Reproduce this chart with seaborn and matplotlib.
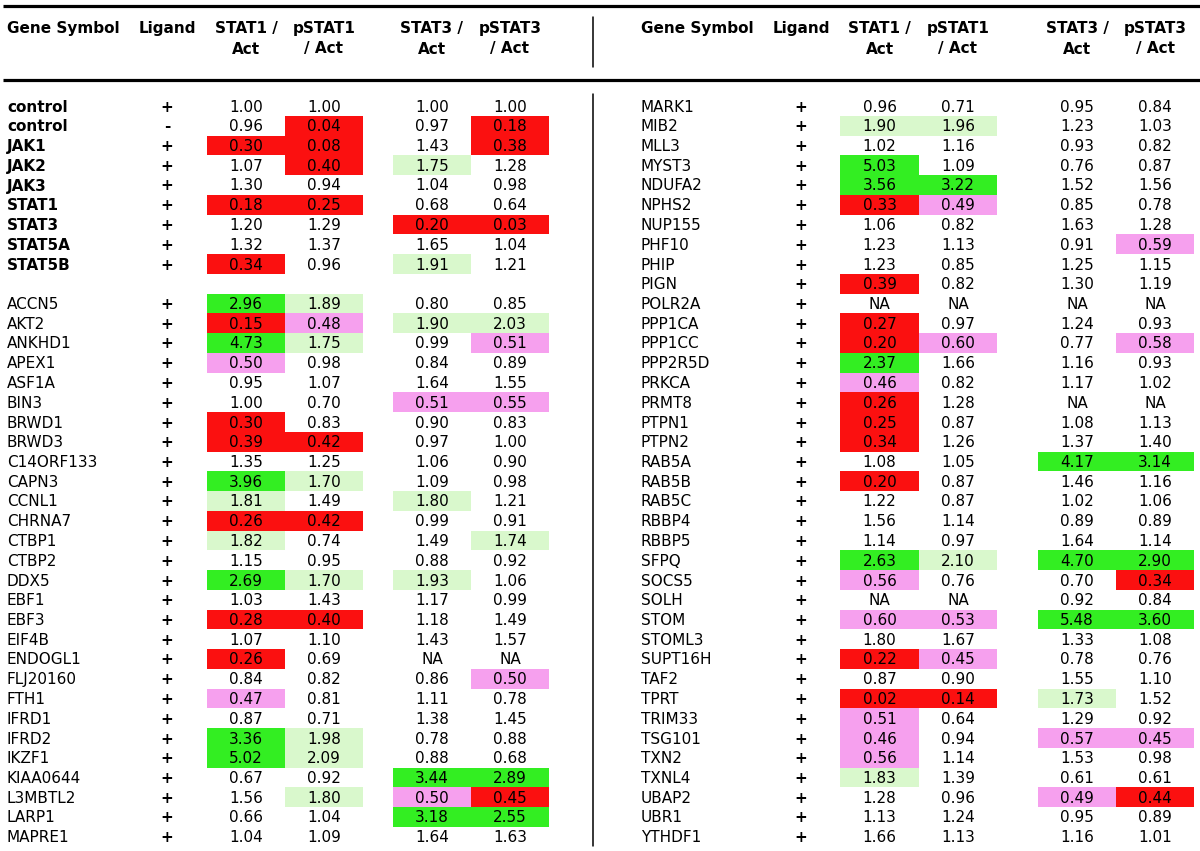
import numpy as np
import pandas as pd
import seaborn as sns
import matplotlib.pyplot as plt
from matplotlib.colors import ListedColormap

NA = np.nan

# ---- left half of the table ----
left_genes = ["control", "control", "JAK1", "JAK2", "JAK3", "STAT1", "STAT3", "STAT5A", "STAT5B", "",
              "ACCN5", "AKT2", "ANKHD1", "APEX1", "ASF1A", "BIN3", "BRWD1", "BRWD3", "C14ORF133", "CAPN3",
              "CCNL1", "CHRNA7", "CTBP1", "CTBP2", "DDX5", "EBF1", "EBF3", "EIF4B", "ENDOGL1", "FLJ20160",
              "FTH1", "IFRD1", "IFRD2", "IKZF1", "KIAA0644", "L3MBTL2", "LARP1", "MAPRE1"]
left_ligand = ["+", "-", "+", "+", "+", "+", "+", "+", "+", ""] + ["+"] * 28
left_stat1 = [1.00, 0.96, 0.30, 1.07, 1.30, 0.18, 1.20, 1.32, 0.34, NA,
              2.96, 0.15, 4.73, 0.50, 0.95, 1.00, 0.30, 0.39, 1.35, 3.96,
              1.81, 0.26, 1.82, 1.15, 2.69, 1.03, 0.28, 1.07, 0.26, 0.84,
              0.47, 0.87, 3.36, 5.02, 0.67, 1.56, 0.66, 1.04]
left_pstat1 = [1.00, 0.04, 0.08, 0.40, 0.94, 0.25, 1.29, 1.37, 0.96, NA,
               1.89, 0.48, 1.75, 0.98, 1.07, 0.70, 0.83, 0.42, 1.25, 1.70,
               1.49, 0.42, 0.74, 0.95, 1.70, 1.43, 0.40, 1.10, 0.69, 0.82,
               0.81, 0.71, 1.98, 2.09, 0.92, 1.80, 1.04, 1.09]
left_stat3 = [1.00, 0.97, 1.43, 1.75, 1.04, 0.68, 0.20, 1.65, 1.91, NA,
              0.80, 1.90, 0.99, 0.84, 1.64, 0.51, 0.90, 0.97, 1.06, 1.09,
              1.80, 0.99, 1.49, 0.88, 1.93, 1.17, 1.18, 1.43, NA, 0.86,
              1.11, 1.38, 0.78, 0.88, 3.44, 0.50, 3.18, 1.64]
left_pstat3 = [1.00, 0.18, 0.38, 1.28, 0.98, 0.64, 0.03, 1.04, 1.21, NA,
               0.85, 2.03, 0.51, 0.89, 1.55, 0.55, 0.83, 1.00, 0.90, 0.98,
               1.21, 0.91, 1.74, 0.92, 1.06, 0.99, 1.49, 1.57, NA, 0.50,
               0.78, 1.45, 0.88, 0.68, 2.89, 0.45, 2.55, 1.63]
# cell shading per row: r=red, p=pink, l=light green, g=green, .=none
left_flags = ["....", ".r.r", "rr.r", ".rl.", "....", "rr..", "..rr", "....", "r.l.", "....",
              "gl..", "rpll", "gl.p", "p...", "....", "..pp", "r...", "rr..", "....", "gl..",
              "l.l.", "rr..", "l..l", "....", "gll.", "....", "rr..", "....", "r...", "...p",
              "p...", "....", "gl..", "gl..", "..gg", ".lpr", "..gg", "...."]

# ---- right half of the table ----
right_genes = ["MARK1", "MIB2", "MLL3", "MYST3", "NDUFA2", "NPHS2", "NUP155", "PHF10", "PHIP", "PIGN",
               "POLR2A", "PPP1CA", "PPP1CC", "PPP2R5D", "PRKCA", "PRMT8", "PTPN1", "PTPN2", "RAB5A", "RAB5B",
               "RAB5C", "RBBP4", "RBBP5", "SFPQ", "SOCS5", "SOLH", "STOM", "STOML3", "SUPT16H", "TAF2",
               "TPRT", "TRIM33", "TSG101", "TXN2", "TXNL4", "UBAP2", "UBR1", "YTHDF1"]
right_ligand = ["+"] * 38
right_stat1 = [0.96, 1.90, 1.02, 5.03, 3.56, 0.33, 1.06, 1.23, 1.23, 0.39,
               NA, 0.27, 0.20, 2.37, 0.46, 0.26, 0.25, 0.34, 1.08, 0.20,
               1.22, 1.56, 1.14, 2.63, 0.56, NA, 0.60, 1.80, 0.22, 0.87,
               0.02, 0.51, 0.46, 0.56, 1.83, 1.28, 1.13, 1.66]
right_pstat1 = [0.71, 1.96, 1.16, 1.09, 3.22, 0.49, 0.82, 1.13, 0.85, 0.82,
                NA, 0.97, 0.60, 1.66, 0.82, 1.28, 0.87, 1.26, 1.05, 0.87,
                0.87, 1.14, 0.97, 2.10, 0.76, NA, 0.53, 1.67, 0.45, 0.90,
                0.14, 0.64, 0.94, 1.14, 1.39, 0.96, 1.24, 1.13]
right_stat3 = [0.95, 1.23, 0.93, 0.76, 1.52, 0.85, 1.63, 0.91, 1.25, 1.30,
               NA, 1.24, 0.77, 1.16, 1.17, NA, 1.08, 1.37, 4.17, 1.46,
               1.02, 0.89, 1.64, 4.70, 0.70, 0.92, 5.48, 1.33, 0.78, 1.55,
               1.73, 1.29, 0.57, 1.53, 0.61, 0.49, 0.95, 1.16]
right_pstat3 = [0.84, 1.03, 0.82, 0.87, 1.56, 0.78, 1.28, 0.59, 1.15, 1.19,
                NA, 0.93, 0.58, 0.93, 1.02, NA, 1.13, 1.40, 3.14, 1.16,
                1.06, 0.89, 1.14, 2.90, 0.34, 0.84, 3.60, 1.08, 0.76, 1.10,
                1.52, 0.92, 0.45, 0.98, 0.61, 0.44, 0.89, 1.01]
right_flags = ["....", "ll..", "....", "g...", "gg..", "rp..", "....", "...p", "....", "r...",
               "....", "r...", "rp.p", "g...", "p...", "r...", "r...", "r...", "..gg", "r...",
               "....", "....", "....", "glgg", "p..r", "....", "ppgg", "....", "rp..", "....",
               "rrl.", "p...", "p.pp", "p...", "l...", "..pr", "....", "...."]

header_top = ["STAT1 /", "pSTAT1", "STAT3 /", "pSTAT3"]
header_bot = ["Act", "/ Act", "Act", "/ Act"]
value_cols = ["STAT1/Act", "pSTAT1/Act", "STAT3/Act", "pSTAT3/Act"]

sns.set_theme(style="white")
plt.rcParams['font.family'] = ['DejaVu Sans']
plt.rcParams['text.color'] = 'black'

W, H = 1200, 851
FS = 11
row0, dy = 106, 19.75
code = {".": 0, "r": 1, "p": 2, "l": 3, "g": 4}
cmap = ListedColormap(["#fb1010", "#f6a0ee", "#d9f8cc", "#33ee22"])

halves = [
    dict(genes=left_genes, lig=left_ligand, vals=[left_stat1, left_pstat1, left_stat3, left_pstat3],
         flags=left_flags, gx=7, lx=167, edges=[(207, 285, 363), (393, 471, 549)]),
    dict(genes=right_genes, lig=right_ligand, vals=[right_stat1, right_pstat1, right_stat3, right_pstat3],
         flags=right_flags, gx=641, lx=801, edges=[(840, 919, 997), (1038, 1116, 1194)]),
]

fig = plt.figure(figsize=(W / 100, H / 100), dpi=100)
n = 38
y_top = row0 - dy / 2
y_bot = row0 + (n - 0.5) * dy

# shaded cells via seaborn heatmaps (one per column pair)
for h in halves:
    df = pd.DataFrame(np.array(h["vals"]).T, columns=value_cols)
    shade = pd.DataFrame([[code[c] for c in f] for f in h["flags"]], columns=value_cols)
    for k, (x0, xm, x1) in enumerate(h["edges"]):
        cols = value_cols[2 * k:2 * k + 2]
        ax = fig.add_axes([x0 / W, 1 - y_bot / H, (x1 - x0) / W, (y_bot - y_top) / H])
        sns.heatmap(shade[cols], mask=shade[cols] == 0, cmap=cmap, vmin=0.5, vmax=4.5,
                    cbar=False, xticklabels=False, yticklabels=False, ax=ax)
        ax.axis("off")
    h["df"] = df

# overlay for text and rules
ov = fig.add_axes([0, 0, 1, 1])
ov.set_xlim(0, W)
ov.set_ylim(H, 0)
ov.axis("off")
ov.patch.set_alpha(0)

ov.plot([3, W], [5.5, 5.5], color="black", lw=2.3, solid_capstyle="butt")
ov.plot([3, W], [80, 80], color="black", lw=2.3, solid_capstyle="butt")
ov.plot([593, 593], [17, 67], color="black", lw=1.1)
ov.plot([593, 593], [94, 846], color="black", lw=1.1)

for h in halves:
    centers = []
    for (x0, xm, x1) in h["edges"]:
        centers += [(x0 + xm) / 2, (xm + x1) / 2]
    ov.text(h["gx"], 29, "Gene Symbol", ha="left", va="center", fontsize=FS, fontweight="bold")
    ov.text(h["lx"], 29, "Ligand", ha="center", va="center", fontsize=FS, fontweight="bold")
    for cx, t, b in zip(centers, header_top, header_bot):
        ov.text(cx, 29, t, ha="center", va="center", fontsize=FS, fontweight="bold")
        ov.text(cx, 49, b, ha="center", va="center", fontsize=FS, fontweight="bold")
    for i, g in enumerate(h["genes"]):
        if g == "":
            continue
        y = row0 + i * dy + 1
        bold = h is halves[0] and i < 9
        ov.text(h["gx"], y, g, ha="left", va="center", fontsize=FS,
                fontweight="bold" if bold else "normal")
        ov.text(h["lx"], y, h["lig"][i], ha="center", va="center", fontsize=FS, fontweight="bold")
        for j, col in enumerate(value_cols):
            v = h["df"][col].iloc[i]
            s = "NA" if np.isnan(v) else f"{v:.2f}"
            ov.text(centers[j], y, s, ha="center", va="center", fontsize=FS, color="black")

fig.savefig("out.png", dpi=100)
